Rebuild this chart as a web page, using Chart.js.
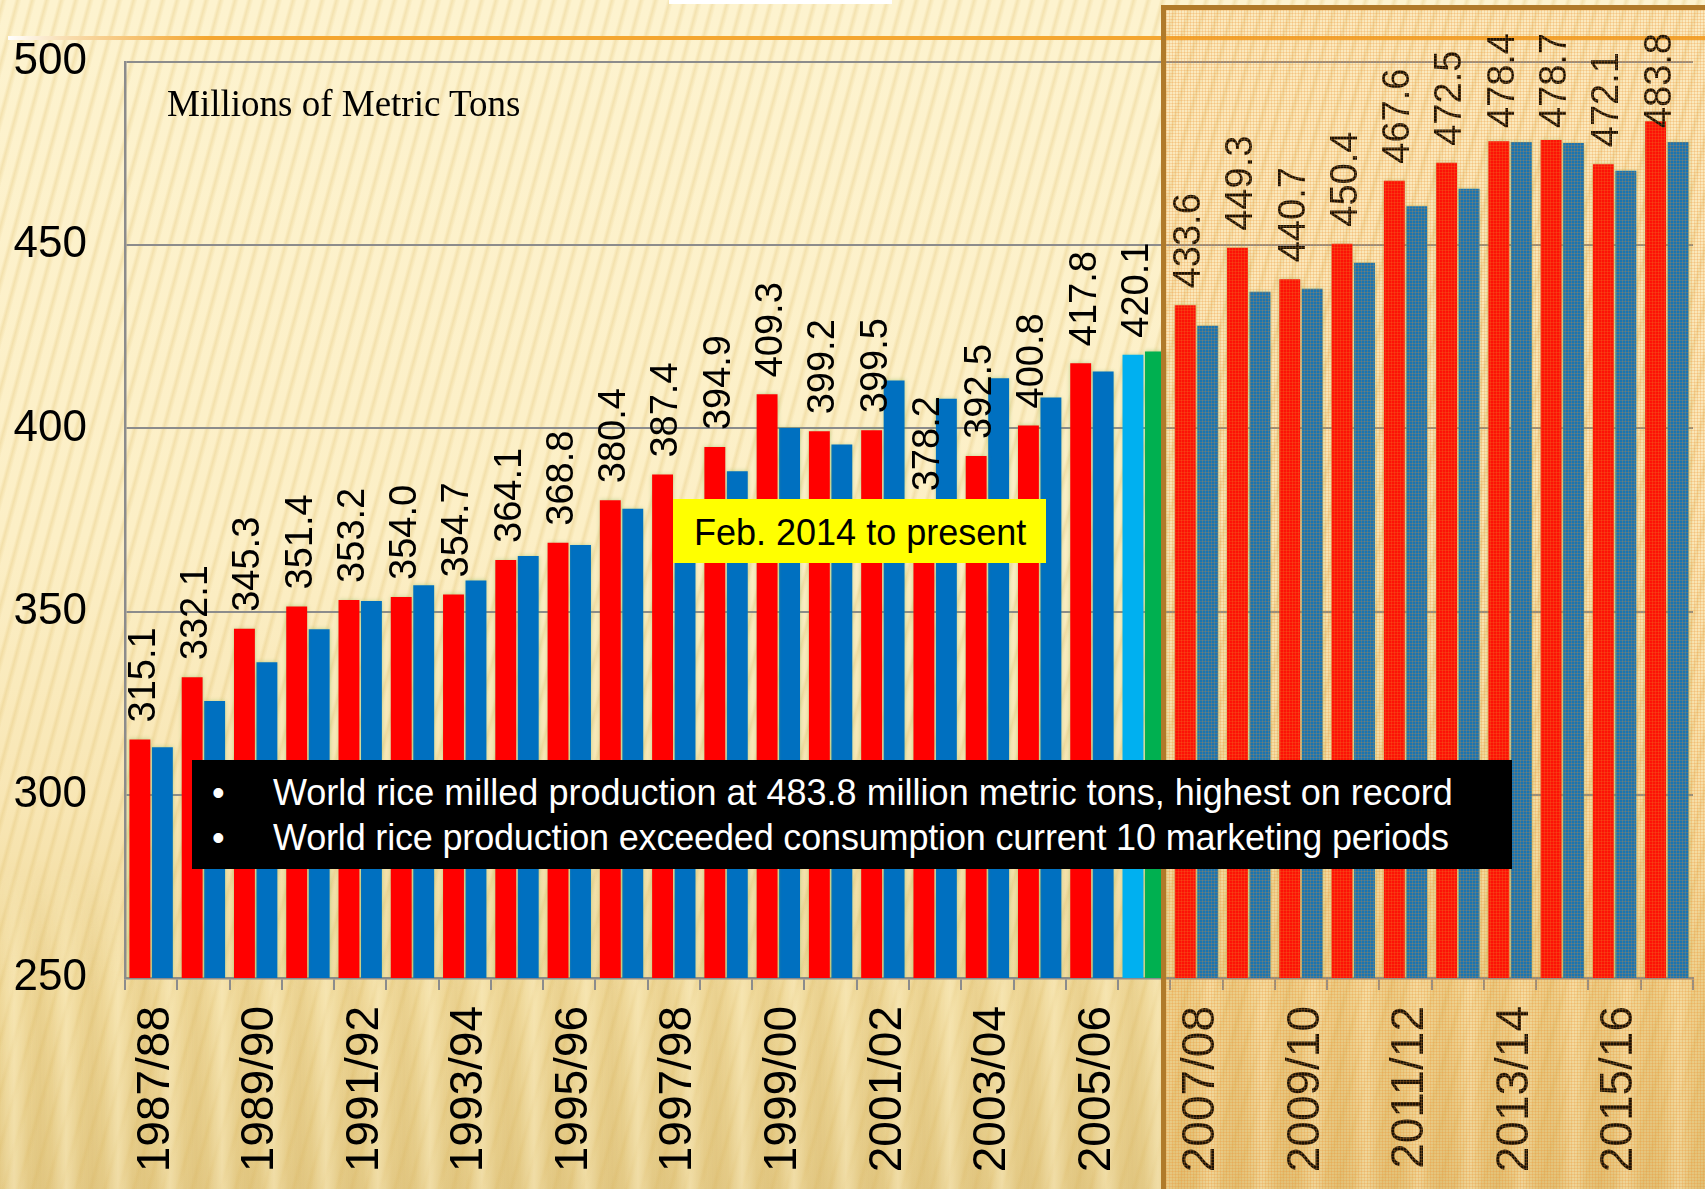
<!DOCTYPE html>
<html>
<head>
<meta charset="utf-8">
<title>World rice production and consumption</title>
<script src="https://cdn.jsdelivr.net/npm/chart.js@4.4.1/dist/chart.umd.min.js"></script>
<style>
html,body{margin:0;padding:0;}
body{width:1705px;height:1189px;position:relative;overflow:hidden;
 background-color:#fbeec4;
 background-image:
  repeating-linear-gradient(105deg, rgba(222,188,105,0) 0px, rgba(222,188,105,0.30) 3px, rgba(222,188,105,0) 7px, rgba(222,188,105,0) 14px),
  linear-gradient(180deg, #fdf3cf 0%, #fcefc6 45%, #f8e6b4 68%, #efd899 84%, #e4ca86 100%);
}
#curtain{position:absolute;left:0;top:860px;width:1705px;height:329px;z-index:0;
 background-image:repeating-linear-gradient(90deg, rgba(255,244,205,0) 0px, rgba(255,244,205,0.45) 14px, rgba(255,244,205,0) 28px, rgba(210,175,95,0.18) 40px, rgba(255,244,205,0) 52px);
 -webkit-mask-image:linear-gradient(180deg, transparent 0%, #000 40%, #000 100%);
 mask-image:linear-gradient(180deg, transparent 0%, #000 40%, #000 100%);}
#rule{position:absolute;left:8px;top:35.5px;width:1697px;height:4px;z-index:1;
 background:linear-gradient(90deg,#ffffff 0px,#f8dcae 60px,#f4a630 200px,#f4a630 100%);}
#chart{position:absolute;left:0;top:0;z-index:2;}
#zone{position:absolute;left:1161px;top:5px;width:560px;height:1200px;box-sizing:border-box;
 border-left:5px solid #b07a2a;border-top:5px solid #b07a2a;z-index:3;
 background-color:rgba(240,160,60,0.11);
 background-image:repeating-linear-gradient(0deg, rgba(236,140,40,0.22) 0 1px, transparent 1px 3px),
                  repeating-linear-gradient(90deg, rgba(236,140,40,0.22) 0 1px, transparent 1px 3px);}
#tab{position:absolute;left:669px;top:0;width:223px;height:4px;background:#ffffff;z-index:3;}
#unit{position:absolute;left:167px;top:85px;font:37px/37px "Liberation Serif","Times New Roman",serif;color:#000;z-index:3;white-space:nowrap;}
#period{position:absolute;left:673px;top:499px;width:373px;height:64px;background:#ffff00;z-index:4;}
#period span{position:absolute;left:21px;top:16px;font:36px/36px "Liberation Sans",Arial,sans-serif;white-space:nowrap;color:#000;}
#notes{position:absolute;left:192px;top:760px;width:1320px;height:109px;background:#000;z-index:4;color:#fff;font:36px/36px "Liberation Sans",Arial,sans-serif;}
#notes .ln{position:absolute;left:0;width:100%;height:36px;white-space:nowrap;}
#notes .b{position:absolute;left:20px;top:0;}
#notes .t{position:absolute;left:81px;top:0;}
</style>
</head>
<body>
<div id="curtain"></div>
<div id="rule"></div>
<canvas id="chart" width="1705" height="1189"></canvas>
<div id="zone"></div>
<div id="tab"></div>
<div id="unit">Millions of Metric Tons</div>
<div id="period"><span>Feb. 2014 to present</span></div>
<div id="notes">
  <div class="ln" style="top:15px"><span class="b">•</span><span class="t">World rice milled production at 483.8 million metric tons, highest on record</span></div>
  <div class="ln" style="top:60px"><span class="b">•</span><span class="t" style="letter-spacing:-0.17px">World rice production exceeded consumption current 10 marketing periods</span></div>
</div>
<script>
// ---------- data ----------
const seasons = ['1987/88','1988/89','1989/90','1990/91','1991/92','1992/93','1993/94','1994/95','1995/96','1996/97',
                 '1997/98','1998/99','1999/00','2000/01','2001/02','2002/03','2003/04','2004/05','2005/06','2006/07',
                 '2007/08','2008/09','2009/10','2010/11','2011/12','2012/13','2013/14','2014/15','2015/16','2016/17'];
const production = [315.1,332.1,345.3,351.4,353.2,354.0,354.7,364.1,368.8,380.4,
                    387.4,394.9,409.3,399.2,399.5,378.2,392.5,400.8,417.8,420.1,
                    433.6,449.3,440.7,450.4,467.6,472.5,478.4,478.7,472.1,483.8];
const consumption = [313.0,325.6,336.2,345.2,352.9,357.2,358.5,365.2,368.2,378.1,
                     378.0,388.3,400.1,395.6,413.1,408.1,413.7,408.4,415.5,421.0,
                     428.0,437.3,438.1,445.2,460.6,465.4,478.2,477.9,470.3,478.2];
const yTicks = [250,300,350,400,450,500];
const highlightSeason = '2006/07';
const prodColor = '#ff0000', consColor = '#0070c0';
const prodHighlight = '#00b0f0', consHighlight = '#00b050';

const FONT = '"Liberation Sans", Arial, sans-serif';

const barDecor = {
  id: 'barDecor',
  beforeDatasetsDraw(chart) {
    const ctx = chart.ctx;
    ctx.save();
    ctx.shadowColor = 'rgba(120,180,80,0.45)';
    ctx.shadowBlur = 4;
  },
  afterDatasetsDraw(chart) {
    const ctx = chart.ctx;
    ctx.restore();
    const meta = chart.getDatasetMeta(0);
    ctx.save();
    const size = 38;
    ctx.font = size + 'px ' + FONT;
    ctx.fillStyle = '#000';
    ctx.textAlign = 'left';
    ctx.textBaseline = 'alphabetic';
    const gap = 17, minTop = 33;
    const shift = 0.716 * size / 2 + 1.3;
    meta.data.forEach((bar, i) => {
      const txt = production[i].toFixed(1);
      const w = ctx.measureText(txt).width;
      let start = bar.y - gap;
      if (start - w < minTop) start = minTop + w;
      ctx.save();
      ctx.translate(bar.x + shift, start);
      ctx.rotate(-Math.PI / 2);
      ctx.fillText(txt, 0, 0);
      ctx.restore();
    });
    ctx.restore();
  }
};

new Chart(document.getElementById('chart').getContext('2d'), {
  type: 'bar',
  data: {
    labels: seasons,
    datasets: [
      { label: 'Production', data: production,
        backgroundColor: seasons.map(s => s === highlightSeason ? prodHighlight : prodColor),
        borderWidth: 0, categoryPercentage: 0.86, barPercentage: 0.93 },
      { label: 'Consumption', data: consumption,
        backgroundColor: seasons.map(s => s === highlightSeason ? consHighlight : consColor),
        borderWidth: 0, categoryPercentage: 0.86, barPercentage: 0.93 }
    ]
  },
  options: {
    responsive: false,
    animation: false,
    devicePixelRatio: 1,
    layout: { padding: { top: 62, right: 12, bottom: 0, left: 0 } },
    plugins: { legend: { display: false }, tooltip: { enabled: false } },
    scales: {
      x: {
        grid: { display: true, drawOnChartArea: false, drawTicks: true, tickLength: 12, color: '#8c8c8c', lineWidth: 2, offset: true },
        border: { display: true, color: '#8c8c8c', width: 2.5 },
        ticks: { autoSkip: false, minRotation: 90, maxRotation: 90, padding: 16, labelOffset: 5, color: '#000',
                 font: { family: FONT, size: 46 },
                 callback: (v, i) => (i % 2 === 0 ? seasons[i] : '') },
        afterFit: s => { s.height = 211; s.paddingLeft = 0; s.paddingRight = 0; }
      },
      y: {
        min: yTicks[0], max: yTicks[yTicks.length - 1],
        grid: { color: '#8c8c8c', lineWidth: 2, drawTicks: false },
        border: { display: true, color: '#8c8c8c', width: 2.5 },
        ticks: { stepSize: 50, padding: 38, color: '#000', font: { family: FONT, size: 44 },
                 callback: v => (yTicks.includes(v) ? String(v) : '') },
        afterFit: s => { s.width = 125; s.paddingTop = 0; s.paddingBottom = 0; }
      }
    }
  },
  plugins: [barDecor]
});
</script>
</body>
</html>
